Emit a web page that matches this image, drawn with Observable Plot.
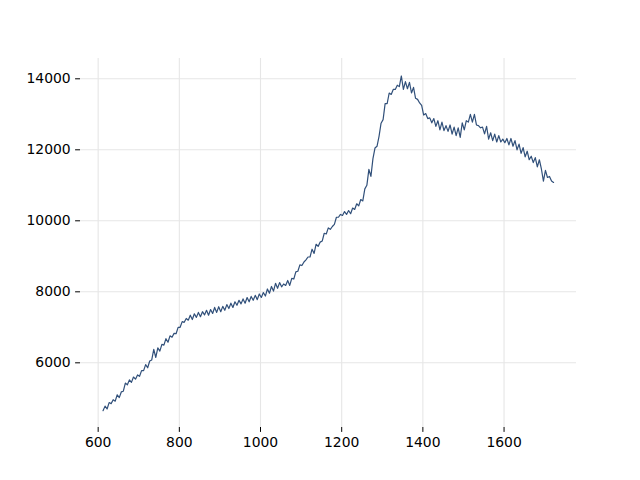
<!DOCTYPE html>
<html>
<head>
<meta charset="utf-8">
<script src="https://cdn.jsdelivr.net/npm/d3@7"></script>
<script src="https://cdn.jsdelivr.net/npm/@observablehq/plot@0.6"></script>
<style>
  html, body { margin: 0; padding: 0; background: #fff; }
  #chart { width: 640px; height: 480px; }
</style>
</head>
<body>
<div id="chart"></div>
<script>
// Sampling grid of the spectrum (x positions)
const xStart = 612, xStep = 5;
// Intensity values, one per x sample
const intensity = [
  4650, 4780, 4700, 4880, 4850, 4960, 4920, 5100, 5020, 5180,
  5200, 5430, 5380, 5520, 5450, 5600, 5540, 5660, 5620, 5780,
  5780, 5950, 5860, 6050, 6080, 6380, 6150, 6420, 6330, 6520,
  6500, 6680, 6580, 6760, 6720, 6830, 6820, 7000, 7000, 7160,
  7140, 7250, 7200, 7340, 7220, 7380, 7280, 7420, 7300, 7440,
  7350, 7480, 7340, 7500, 7390, 7560, 7420, 7580, 7440, 7590,
  7480, 7640, 7530, 7680, 7560, 7720, 7620, 7760, 7660, 7800,
  7680, 7840, 7720, 7870, 7760, 7900, 7780, 7940, 7840, 7980,
  7880, 8080, 7960, 8150, 8020, 8240, 8100, 8260, 8140, 8220,
  8180, 8320, 8180, 8380, 8360, 8560, 8580, 8760, 8740, 8840,
  8900, 8980, 8980, 9200, 9080, 9340, 9280, 9400, 9430, 9650,
  9630, 9800, 9760, 9840, 9900, 10100, 10100, 10180, 10150, 10260,
  10180, 10290, 10200, 10360, 10320, 10480, 10420, 10600, 10560, 10900,
  11000, 11450, 11250, 11750, 12050, 12100, 12380, 12750, 12850, 13300,
  13300, 13600, 13560, 13700, 13700, 13820, 13780, 14080, 13700, 13920,
  13720, 13900, 13600, 13760, 13450, 13420, 13320, 13250, 12980, 13020,
  12880, 12900, 12760, 12880, 12660, 12820, 12560, 12780, 12540, 12680,
  12520, 12700, 12440, 12640, 12400, 12620, 12350, 12760, 12560, 12820,
  12780, 13000, 12780, 13000, 12700, 12680, 12620, 12640, 12450, 12660,
  12300, 12480, 12260, 12440, 12220, 12400, 12220, 12300, 12200, 12320,
  12140, 12320, 12100, 12260, 12000, 12160, 11900, 12060, 11800, 11960,
  11720, 11820, 11640, 11780, 11520, 11720, 11460, 11120, 11420, 11220,
  11250, 11120, 11080
];
const xTicks = [600, 800, 1000, 1200, 1400, 1600];
const yTicks = [6000, 8000, 10000, 12000, 14000];

const data = intensity.map((v, i) => ({x: xStart + i * xStep, y: v}));

const chart = Plot.plot({
  width: 640,
  height: 480,
  marginLeft: 80,
  marginRight: 64,
  marginTop: 58,
  marginBottom: 53,
  style: {fontFamily: "DejaVu Sans", fontSize: "13.9px", color: "#000", background: "#fff"},
  x: {domain: [556.5, 1778.5]},
  y: {domain: [4178, 14572]},
  marks: [
    Plot.gridX(xTicks, {stroke: "#e6e6e6", strokeOpacity: 1, strokeWidth: 1.1}),
    Plot.gridY(yTicks, {stroke: "#e6e6e6", strokeOpacity: 1, strokeWidth: 1.1}),
    Plot.axisX(xTicks, {tickSize: 4.9, tickPadding: 4.9, fontSize: 13.9, label: null, tickFormat: d => String(d)}),
    Plot.axisY(yTicks, {tickSize: 4.9, tickPadding: 4.9, fontSize: 13.9, label: null, tickFormat: d => String(d)}),
    Plot.line(data, {x: "x", y: "y", stroke: "#31507a", strokeWidth: 1.2})
  ]
});
document.getElementById("chart").appendChild(chart);
</script>
</body>
</html>
